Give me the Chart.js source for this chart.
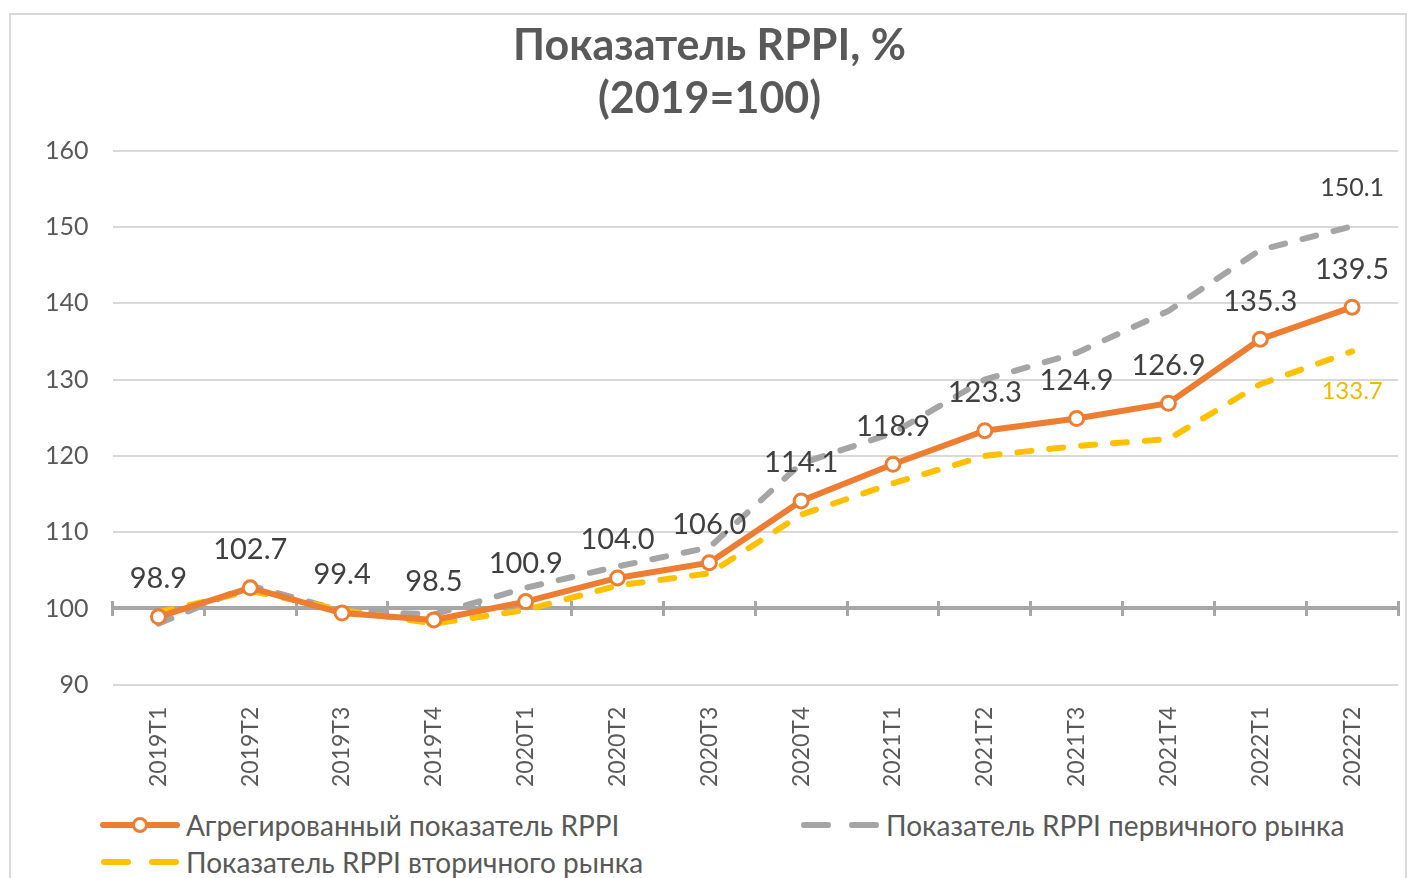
<!DOCTYPE html>
<html lang="ru">
<head>
<meta charset="utf-8">
<script src="https://cdn.jsdelivr.net/npm/chart.js@4.4.1/dist/chart.umd.min.js"></script>
<style>
  html, body { margin: 0; padding: 0; background: #fff; overflow: hidden; }
  body { width: 1415px; height: 878px; position: relative; font-family: Lato, sans-serif; }
  .frame { position: absolute; left: 9px; top: 13px; width: 1398px; height: 900px; border: 2px solid #d9d9d9; box-sizing: border-box; }
  #wrap { position: absolute; left: 0; top: 0; width: 1415px; height: 801px; }
  .lg { position: absolute; height: 30px; display: flex; align-items: center; font-size: 28px; color: #595959; white-space: nowrap; }
  .lg svg { margin-right: 4px; }
</style>
</head>
<body>
<div class="frame"></div>
<div id="wrap"><canvas id="chart"></canvas></div>

<div class="lg" style="left:98px; top:810px;">
  <svg width="84" height="20"><line x1="5" y1="10" x2="79" y2="10" stroke="#ED7D31" stroke-width="6" stroke-linecap="round"/><circle cx="42" cy="10" r="6.5" fill="#fff" stroke="#ED7D31" stroke-width="3"/></svg>
  <span>Агрегированный показатель RPPI</span>
</div>
<div class="lg" style="left:798px; top:810px;">
  <svg width="84" height="20"><line x1="6" y1="10" x2="78" y2="10" stroke="#A5A5A5" stroke-width="6" stroke-linecap="round" stroke-dasharray="24 24"/></svg>
  <span>Показатель RPPI первичного рынка</span>
</div>
<div class="lg" style="left:98px; top:847px;">
  <svg width="84" height="20"><line x1="6" y1="10" x2="78" y2="10" stroke="#FFC000" stroke-width="6" stroke-linecap="round" stroke-dasharray="24 24"/></svg>
  <span>Показатель RPPI вторичного рынка</span>
</div>

<script>
// quarters on the x axis
const quarters = ["2019T1", "2019T2", "2019T3", "2019T4", "2020T1", "2020T2", "2020T3",
  "2020T4", "2021T1", "2021T2", "2021T3", "2021T4", "2022T1", "2022T2"];

// aggregated RPPI (labels on chart)
const aggregated = [98.9, 102.7, 99.4, 98.5, 100.9, 104.0, 106.0, 114.1, 118.9, 123.3, 124.9, 126.9, 135.3, 139.5];
// primary market (last value labelled)
const primary = [98.0, 103.0, 99.7, 99.2, 102.7, 105.5, 108.0, 119.0, 123.0, 130.0, 133.5, 139.0, 147.0, 150.1];
// secondary market (last value labelled)
const secondary = [99.5, 102.3, 99.8, 98.0, 99.8, 103.0, 104.6, 112.3, 116.4, 120.0, 121.3, 122.2, 129.4, 133.7];

const yTicks = [90, 100, 110, 120, 130, 140, 150, 160];

const ORANGE = "#ED7D31";
const GREY = "#A5A5A5";
const YELLOW = "#FFC000";

// draws the numbers next to the points
const valueLabels = {
  id: "valueLabels",
  afterDatasetsDraw(chart) {
    const ctx = chart.ctx;
    ctx.save();
    ctx.textAlign = "center";
    ctx.textBaseline = "middle";
    chart.data.datasets.forEach((ds, i) => {
      const lab = ds.valueLabel;
      if (!lab) return;
      const meta = chart.getDatasetMeta(i);
      meta.data.forEach((pt, j) => {
        if (lab.lastOnly && j !== meta.data.length - 1) return;
        ctx.font = lab.size + "px Lato, sans-serif";
        ctx.fillStyle = lab.color;
        ctx.fillText(ds.data[j].toFixed(1), pt.x, pt.y + lab.dy);
      });
    });
    ctx.restore();
  }
};

new Chart(document.getElementById("chart"), {
  type: "line",
  data: {
    labels: quarters,
    datasets: [
      {
        label: "Агрегированный показатель RPPI",
        data: aggregated,
        borderColor: ORANGE,
        borderWidth: 6,
        pointRadius: 7,
        pointBorderWidth: 3,
        pointBackgroundColor: "#fff",
        pointBorderColor: ORANGE,
        order: 0,
        valueLabel: { color: "#404040", size: 29, dy: -38 }
      },
      {
        label: "Показатель RPPI первичного рынка",
        data: primary,
        borderColor: GREY,
        borderWidth: 6,
        borderDash: [14, 18],
        borderCapStyle: "round",
        pointRadius: 0,
        order: 2,
        valueLabel: { color: "#404040", size: 25, dy: -38, lastOnly: true }
      },
      {
        label: "Показатель RPPI вторичного рынка",
        data: secondary,
        borderColor: YELLOW,
        borderWidth: 6,
        borderDash: [14, 18],
        borderCapStyle: "round",
        pointRadius: 0,
        order: 1,
        valueLabel: { color: "#F2B800", size: 24, dy: 40, lastOnly: true }
      }
    ]
  },
  options: {
    responsive: true,
    maintainAspectRatio: false,
    animation: false,
    layout: { padding: { left: 21, right: 17, top: 0, bottom: 0 } },
    plugins: {
      legend: { display: false },
      tooltip: { enabled: false },
      title: {
        display: true,
        text: ["Показатель RPPI, %", "(2019=100)"],
        color: "#595959",
        font: { family: "Lato, sans-serif", size: 43, weight: "bold", lineHeight: 1.23 },
        padding: { top: 20, bottom: 25 }
      }
    },
    scales: {
      x: {
        type: "category",
        offset: true,
        grid: { display: false },
        border: { display: false },
        ticks: {
          color: "#595959",
          font: { family: "Lato, sans-serif", size: 23 },
          minRotation: 90,
          maxRotation: 90,
          padding: 14,
          autoSkip: false
        }
      },
      // tick marks crossing the 100 line
      xMarks: {
        type: "category",
        offset: true,
        position: { y: 100.95 },
        border: { display: false },
        grid: { offset: true, drawOnChartArea: false, drawTicks: true, tickLength: 15, lineWidth: 3, color: "#A6A6A6" },
        ticks: { display: false }
      },
      y: {
        min: 90,
        max: 160,
        afterBuildTicks: (axis) => { axis.ticks = yTicks.map(v => ({ value: v })); },
        border: { display: false },
        grid: {
          drawTicks: false,
          color: (c) => c.tick && c.tick.value === 100 ? "#A6A6A6" : "#D9D9D9",
          lineWidth: (c) => c.tick && c.tick.value === 100 ? 4 : 2
        },
        ticks: {
          color: "#595959",
          font: { family: "Lato, sans-serif", size: 25 },
          padding: 24
        }
      }
    }
  },
  plugins: [valueLabels]
});
</script>
</body>
</html>
